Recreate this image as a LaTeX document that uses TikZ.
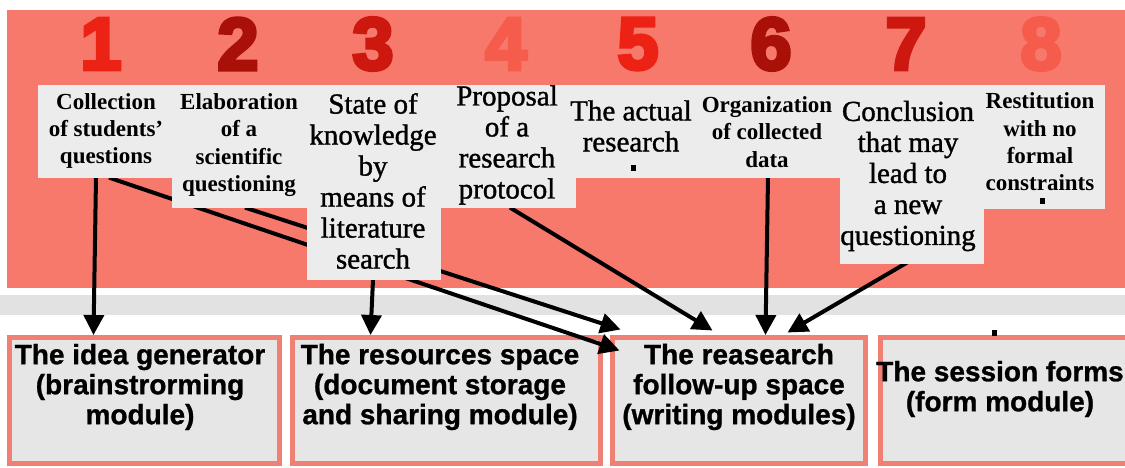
\documentclass[tikz,border=0pt]{standalone}
\usepackage{fontspec}
\setmainfont{Liberation Serif}
\newfontfamily\serifheavy{Liberation Serif}[FakeBold=1.2]
\newfontfamily\boxsans{Liberation Sans}[BoldFeatures={FakeBold=1}]
\newfontfamily\numfont{Liberation Sans}[BoldFeatures={FakeBold=5}]
\usetikzlibrary{arrows.meta,calc}
\definecolor{salmon}{RGB}{247,121,108}
\definecolor{boxborder}{RGB}{240,128,116}
\definecolor{colgray}{RGB}{236,236,236}
\definecolor{boxgray}{RGB}{230,230,230}
\definecolor{bandgray}{RGB}{226,226,226}
\definecolor{numA}{RGB}{236,34,20}
\definecolor{numB}{RGB}{168,16,8}
\definecolor{numC}{RGB}{204,24,14}
\definecolor{numD}{RGB}{246,92,76}
\pgfdeclarelayer{back}
\pgfdeclarelayer{mid}
\pgfsetlayers{back,mid,main}
\tikzset{
  col/.style={fill=colgray, draw=colgray, line width=0.6pt, inner sep=0pt, anchor=north west},
  modbox/.style={fill=boxgray, draw=boxborder, line width=5pt, inner sep=0pt, minimum height=126pt},
  bsmall/.style={align=center, inner sep=0pt, font=\bfseries\fontsize{23}{27.3}\selectfont},
  rlarge/.style={align=center, inner sep=0pt, font=\serifheavy\fontsize{29}{31}\selectfont},
  modtext/.style={align=center, inner sep=0pt, font=\boxsans\bfseries\fontsize{28}{30}\selectfont},
  numtxt/.style={inner sep=0pt, font=\numfont\bfseries\fontsize{74}{74}\selectfont},
  dotsq/.style={fill=black, inner sep=0pt, minimum width=5pt, minimum height=6pt},
  arr/.style={line width=4pt, -{Triangle[width=20pt,length=20pt]}}
}
\begin{document}
\begin{tikzpicture}[x=1pt,y=-1pt]
\useasboundingbox (0,0) rectangle (1125,468);
\begin{pgfonlayer}{back}
  \fill[white] (0,0) rectangle (1125,468);
  \fill[salmon] (7,10) rectangle (1125,288);
  \fill[bandgray] (0,295) rectangle (1125,315);
  \node[modbox, minimum width=270pt] (b1) at (144.5,400.5) {};
  \node[modbox, minimum width=308pt] (b2) at (446.5,400.5) {};
  \node[modbox, minimum width=253pt] (b3) at (739,400.5) {};
  \node[modbox, minimum width=252pt] (b4) at (1006.5,400.5) {};
\end{pgfonlayer}

% numbers
\node[numtxt, text=numA] (n1) at (101,44) {1};
\node[numtxt, text=numB] (n2) at (238,44) {2};
\node[numtxt, text=numC] (n3) at (373,44) {3};
\node[numtxt, text=numD] (n4) at (506,44) {4};
\node[numtxt, text=numA] (n5) at (638,44) {5};
\node[numtxt, text=numB] (n6) at (771,44) {6};
\node[numtxt, text=numC] (n7) at (906,44) {7};
\node[numtxt, text=numD] (n8) at (1041,44) {8};

% step columns
\node[col, minimum width=134pt, minimum height=92pt]  (c1) at (38,85) {};
\node[col, minimum width=135pt, minimum height=122pt] (c2) at (172,85) {};
\node[col, minimum width=133pt, minimum height=194pt] (c3) at (307,85) {};
\node[col, minimum width=135pt, minimum height=122pt] (c4) at (440,85) {};
\node[col, minimum width=128pt, minimum height=92pt]  (c5) at (575,85) {};
\node[col, minimum width=137pt, minimum height=92pt]  (c6) at (703,85) {};
\node[col, minimum width=143pt, minimum height=178pt] (c7) at (840,85) {};
\node[col, minimum width=121pt, minimum height=123pt] (c8) at (983,85) {};

\node[bsmall] (t1) at (106,131) {Collection\\of students'\\questions};
\node[bsmall] (t2) at (239,145) {Elaboration\\of a\\scientific\\questioning};
\node[rlarge] (t3) at (373,181) {State of\\knowledge\\by\\means of\\literature\\search};
\node[rlarge] (t4) at (507,145) {Proposal\\of a\\research\\protocol};
\node[rlarge] (t5) at (631,126) {The actual\\research};
\node[bsmall] (t6) at (767,132) {Organization\\of collected\\data};
\node[rlarge] (t7) at (908,176) {Conclusion\\that may\\lead to\\a new\\questioning};
\node[bsmall] (t8) at (1040,142) {Restitution\\with no\\formal\\constraints};

\node[dotsq] (d1) at (633,168) {};
\node[dotsq] (d2) at (1042,201) {};
\node[dotsq] (d3) at (994,333) {};

% module texts
\node[modtext] (m1) at (140,387) {The idea generator\\(brainstrorming\\module)};
\node[modtext] (m2) at (440,387) {The resources space\\(document storage\\and sharing module)};
\node[modtext] (m3) at (739,387) {The reasearch\\follow-up space\\(writing modules)};
\node[modtext] (m4) at (1000,389) {The session forms\\(form module)};

\begin{pgfonlayer}{mid}
  \draw[arr] ($(c1.south west)+(58,0)$) -- ($(b1.north west)+(86.5,0)$);
  \draw[arr] ($(c1.south west)+(71,0)$) -- ($(b3.north west)+(9.5,15.5)$);
  \draw[arr] ($(c2.south west)+(73,0)$) -- ($(b3.north west)+(10.5,-5.5)$);
  \draw[arr] ($(c3.south west)+(66,0)$) -- ($(b2.north west)+(80.5,0)$);
  \draw[arr] ($(c4.south west)+(70,0)$) -- ($(b3.north west)+(102.5,-4.5)$);
  \draw[arr] ($(c6.south west)+(65,0)$) -- ($(b3.north west)+(155.5,0)$);
  \draw[arr] ($(c7.south west)+(67,-1)$) -- ($(b3.north west)+(177.5,-2.5)$);
\end{pgfonlayer}
\end{tikzpicture}
\end{document}
